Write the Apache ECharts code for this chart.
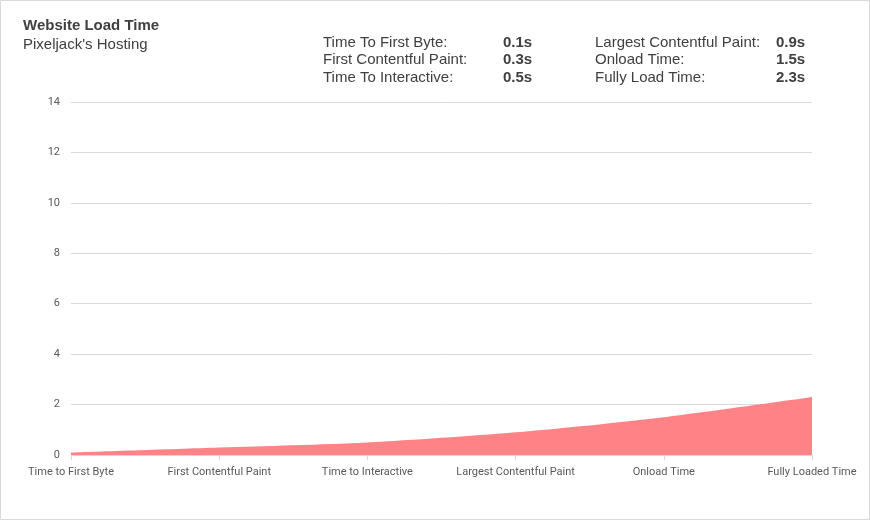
<!DOCTYPE html>
<html><head><meta charset="utf-8">
<script src="https://cdn.jsdelivr.net/npm/echarts@6/dist/echarts.min.js"></script>
<style>html,body{margin:0;padding:0;background:#fff}#c{width:870px;height:520px}</style>
</head><body><div id="c"></div>
<script>
const categories = ['Time to First Byte','First Contentful Paint','Time to Interactive','Largest Contentful Paint','Onload Time','Fully Loaded Time'];
const loadTimes = [0.1, 0.3, 0.5, 0.9, 1.5, 2.3];
const metricLabels = ['Time To First Byte:','First Contentful Paint:','Time To Interactive:','Largest Contentful Paint:','Onload Time:','Fully Load Time:'];
const metricValues = ['0.1s','0.3s','0.5s','0.9s','1.5s','2.3s'];
const yTicks = {min:0, max:14, interval:2};

const chart = echarts.init(document.getElementById('c'));
const graphics = [];
graphics.push({type:'rect', shape:{x:0.5, y:0.5, width:869, height:519},
  style:{fill:'none', stroke:'#d9d9d9', lineWidth:1}, silent:true});
const rowY = [43, 60, 78];
const F = '"Liberation Sans", Arial, sans-serif';
metricLabels.forEach((t,i)=>{
  const col = Math.floor(i/3), row = i%3;
  graphics.push({type:'text', x: col ? 595 : 323, y: rowY[row],
    style:{text:t, fill:'#404040', font:'15px '+F, verticalAlign:'middle'}});
  graphics.push({type:'text', x: col ? 776 : 503, y: rowY[row],
    style:{text:metricValues[i], fill:'#404040', font:'bold 15px '+F, verticalAlign:'middle'}});
});
graphics.push({type:'text', x:23, y:26, style:{text:'Website Load Time', fill:'#404040', font:'bold 15px '+F, verticalAlign:'middle'}});
graphics.push({type:'text', x:23, y:45, style:{text:"Pixeljack's Hosting", fill:'#404040', font:'15px '+F, verticalAlign:'middle'}});

chart.setOption({
  animation:false,
  graphic: graphics,
  grid:{left:71, right:58, top:102, bottom:65, containLabel:false},
  xAxis:{type:'category', data:categories, boundaryGap:false,
    axisLine:{lineStyle:{color:'#d9d9d9'}},
    axisTick:{show:true, alignWithLabel:true, length:5, lineStyle:{color:'#d9d9d9'}},
    axisLabel:{color:'#595959', fontSize:11, fontFamily:'Roboto, sans-serif', margin:12, interval:0}},
  yAxis:{type:'value', min:yTicks.min, max:yTicks.max, interval:yTicks.interval,
    axisLine:{show:false}, axisTick:{show:false},
    splitLine:{lineStyle:{color:'#d9d9d9'}},
    axisLabel:{color:'#595959', fontSize:11, fontFamily:'Roboto, sans-serif', margin:11}},
  series:[{type:'line', data:loadTimes, smooth:0.3, symbol:'none',
    lineStyle:{width:0}, areaStyle:{color:'#FF8286', opacity:1}}]
});
</script></body></html>
